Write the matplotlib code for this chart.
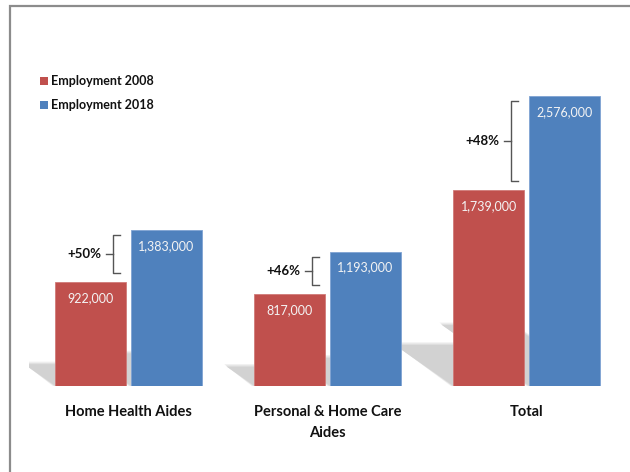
import matplotlib
matplotlib.use("Agg")
import matplotlib.pyplot as plt
from matplotlib.patches import Polygon, Rectangle
import numpy as np

categories = ["Home Health Aides", "Personal & Home Care\nAides", "Total"]
emp_2008 = [922000, 817000, 1739000]
emp_2018 = [1383000, 1193000, 2576000]
growth_labels = ["+50%", "+46%", "+48%"]
series_names = ["Employment 2008", "Employment 2018"]

RED = "#C0504D"
BLUE = "#4F81BD"
FONT = "Lato"

fig = plt.figure(figsize=(6.3, 4.72), dpi=100)
fig.patch.set_facecolor("white")

# outer frame (cut off at right and bottom like the reference)
fig.patches.append(Rectangle((10/630, -0.1), 1.2, 1 - 6/472 + 0.1,
                             transform=fig.transFigure, fill=False,
                             edgecolor="#8c8c8c", linewidth=1.6, zorder=0))

ax = fig.add_axes([29/630, (472-386)/472, 597/630, 337.8/472])
ax.set_xlim(-0.5, 2.5)
ax.set_ylim(0, 3.0e6)
ax.axis("off")

x = np.arange(len(categories))
w = 0.355
off = 0.19

# perspective shadows
px_per_unit_y = 337.8 / 3.0e6
px_per_unit_x = 597 / 3.0
def shadow(left, right, h):
    hp = h * px_per_unit_y
    dx = 0.3 * hp / px_per_unit_x
    dy = 0.21 * h
    layers = [(2.5, "#eeeeee"), (1.2, "#e0e0e0"), (0.0, "#d2d2d2")]
    for k, (g, col) in enumerate(layers):
        gy = g / px_per_unit_y
        gx = g / px_per_unit_x
        pts = [(left - gx, 0), (right, 0), (right - dx, dy + gy),
               (left - dx - gx, dy + gy)]
        ax.add_patch(Polygon(pts, closed=True, facecolor=col, edgecolor="none",
                             zorder=1 + k * 0.1))

for i in range(len(categories)):
    shadow(x[i] + off - w/2, x[i] + off + w/2, emp_2018[i])
for i in range(len(categories)):
    shadow(x[i] - off - w/2, x[i] - off + w/2, emp_2008[i])

ax.bar(x - off, emp_2008, width=w, color=RED, edgecolor="#d07a78", linewidth=0.6, zorder=3)
ax.bar(x + off, emp_2018, width=w, color=BLUE, edgecolor="#7fa3d3", linewidth=0.6, zorder=3)

for i in range(len(categories)):
    ax.annotate(f"{emp_2008[i]:,}", (x[i] - off, emp_2008[i]), xytext=(0, -11.5),
                textcoords="offset points", ha="center", va="center",
                color="#f4f4f4", fontsize=9, family=FONT, zorder=5)
    ax.annotate(f"{emp_2018[i]:,}", (x[i] + off, emp_2018[i]), xytext=(0, -11.5),
                textcoords="offset points", ha="center", va="center",
                color="#f4f4f4", fontsize=9, family=FONT, zorder=5)
    ax.annotate(categories[i], (x[i], 0), xytext=(0, -14),
                textcoords="offset points", ha="center", va="top",
                fontsize=10.5, fontweight="bold", family=FONT, color="#111111",
                linespacing=1.6)

# braces
tick = 7 / px_per_unit_x
for i in range(len(categories)):
    bx = x[i] - off + w/2 - 13 / px_per_unit_x
    top = emp_2018[i] - 5 / px_per_unit_y
    bot = emp_2008[i] + 9 / px_per_unit_y
    mid = (top + bot) / 2
    ax.plot([bx + tick, bx, bx, bx + tick], [top, top, bot, bot],
            color="#555555", lw=1.0, solid_joinstyle="round", zorder=4)
    ax.plot([bx, bx - tick], [mid, mid], color="#555555", lw=1.0, zorder=4)
    ax.annotate(growth_labels[i], (bx - tick, mid), xytext=(-3, 0),
                textcoords="offset points", ha="right", va="center",
                fontsize=9.5, fontweight="bold", family=FONT, color="#111111")

# legend
for j, (name, col) in enumerate(zip(series_names, [RED, BLUE])):
    ypix = 81 + 24 * j
    fig.patches.append(Rectangle((40/630, 1 - (ypix + 4)/472), 8/630, 8/472,
                                 transform=fig.transFigure, facecolor=col,
                                 edgecolor="none"))
    fig.text(51/630, 1 - ypix/472, name, ha="left", va="center",
             fontsize=9, fontweight="bold", family=FONT, color="#111111")

fig.savefig("out.png", dpi=100, facecolor="white")
